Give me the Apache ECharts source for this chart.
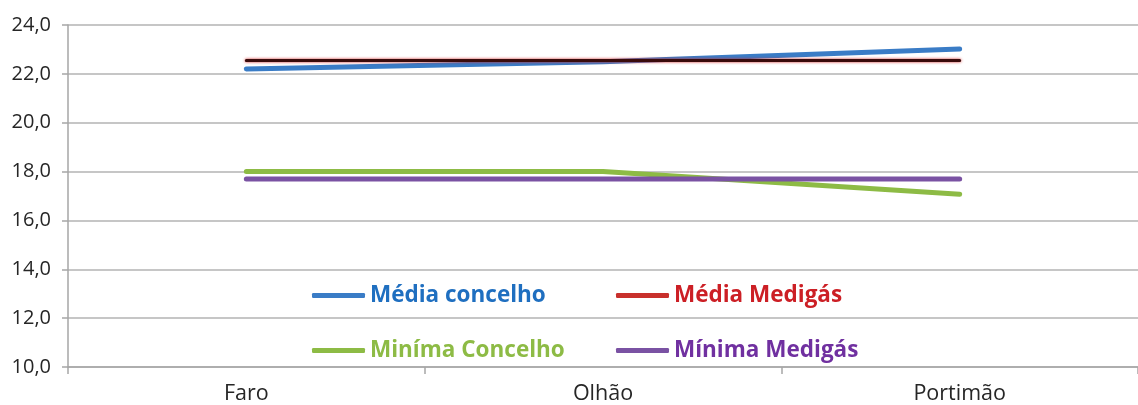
<!DOCTYPE html>
<html>
<head>
<meta charset="utf-8">
<script src="https://cdn.jsdelivr.net/npm/echarts@6/dist/echarts.min.js"></script>
<style>
  html, body { margin: 0; padding: 0; background: #fff; }
  #chart { width: 1138px; height: 405px; }
</style>
</head>
<body>
<div id="chart"></div>
<script>
// Municipalities on the category axis
const categories = ['Faro', 'Olhão', 'Portimão'];

// Series values
const mediaConcelho = [22.2, 22.5, 23.02];
const mediaMedigas = [22.55, 22.55, 22.55];
const minimaConcelho = [18.0, 18.0, 17.07];
const minimaMedigas = [17.7, 17.7, 17.7];

// Series names (legend labels)
const seriesNames = ['Média concelho', 'Média Medigás', 'Miníma Concelho', 'Mínima Medigás'];

// Value axis range
const yMin = 10;
const yMax = 24;
const yStep = 2;

const FONT = '"Open Sans", Lato, sans-serif';
const colors = {
  blue: '#3a7cc6',
  red: '#c8302c',
  green: '#8dbb45',
  purple: '#7a52a3'
};
const textColors = ['#1f6fc0', '#cc1f25', '#8dbb45', '#7030a0'];
const iconColors = [colors.blue, colors.red, colors.green, colors.purple];

function legendAt(i, left, top) {
  return {
    show: true,
    left: left,
    top: top,
    orient: 'horizontal',
    icon: 'roundRect',
    itemWidth: 53,
    itemHeight: 5,
    selectedMode: false,
    data: [{
      name: seriesNames[i],
      itemStyle: { color: iconColors[i] },
      textStyle: { color: textColors[i] }
    }],
    textStyle: {
      fontFamily: FONT,
      fontWeight: 'bold',
      fontSize: 22.5
    }
  };
}

function lineSeries(name, data, color, extra) {
  return Object.assign({
    name: name,
    type: 'line',
    data: data,
    symbol: 'none',
    smooth: false,
    lineStyle: { color: color, width: 5, cap: 'round', join: 'round' },
    itemStyle: { color: color },
    emphasis: { disabled: true },
    animation: false
  }, extra || {});
}

const chart = echarts.init(document.getElementById('chart'), null, { renderer: 'canvas' });

chart.setOption({
  backgroundColor: '#fff',
  animation: false,
  grid: { left: 68, right: -10, top: 25, bottom: 37, containLabel: false },
  legend: [
    legendAt(0, 307, 279),
    legendAt(1, 611, 279),
    legendAt(2, 307, 334),
    legendAt(3, 611, 334)
  ],
  xAxis: {
    type: 'category',
    data: categories,
    boundaryGap: true,
    axisLine: { show: true, lineStyle: { color: '#a6a6a6', width: 1.5 } },
    axisTick: { show: true, length: 7, lineStyle: { color: '#a6a6a6', width: 1.5 } },
    axisLabel: { color: '#262626', fontFamily: FONT, fontSize: 21.5, margin: 16 }
  },
  yAxis: {
    type: 'value',
    min: yMin,
    max: yMax,
    interval: yStep,
    axisLine: { show: true, lineStyle: { color: '#a6a6a6', width: 1.5 } },
    axisTick: { show: true, length: 6, lineStyle: { color: '#a6a6a6', width: 1.5 } },
    splitLine: { show: true, lineStyle: { color: '#b3b3b3', width: 1.5 } },
    axisLabel: {
      color: '#262626',
      fontFamily: FONT,
      fontSize: 20,
      margin: 17,
      formatter: v => v.toFixed(1).replace('.', ',')
    }
  },
  series: [
    lineSeries(seriesNames[0], mediaConcelho, colors.blue),
    lineSeries(seriesNames[1], mediaMedigas, colors.red, {
      lineStyle: { color: '#3a0b0b', width: 3, cap: 'round', shadowColor: 'rgba(210,40,40,1)', shadowBlur: 3 }
    }),
    lineSeries(seriesNames[2], minimaConcelho, colors.green),
    lineSeries(seriesNames[3], minimaMedigas, colors.purple)
  ]
});
</script>
</body>
</html>
